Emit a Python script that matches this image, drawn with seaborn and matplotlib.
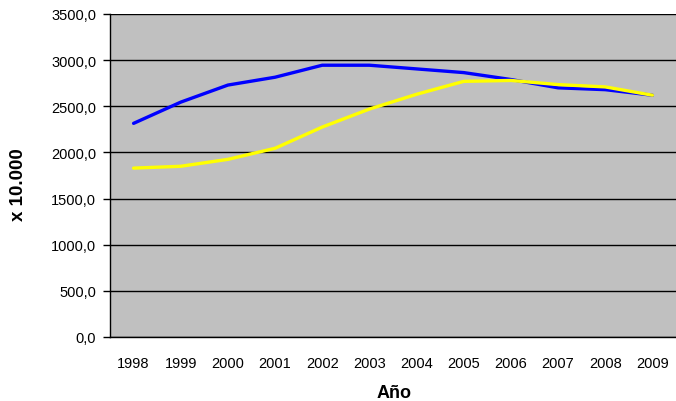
import matplotlib
matplotlib.use('agg')
import matplotlib.pyplot as plt
import seaborn as sns
import pandas as pd
import numpy as np
from matplotlib.ticker import FixedLocator, FuncFormatter

years = ['1998', '1999', '2000', '2001', '2002', '2003', '2004', '2005', '2006', '2007', '2008', '2009']
serie_azul = [2315, 2545, 2730, 2815, 2945, 2945, 2905, 2865, 2790, 2700, 2680, 2620]
serie_amarilla = [1830, 1850, 1925, 2045, 2275, 2470, 2630, 2770, 2780, 2735, 2710, 2620]

df = pd.DataFrame({
    'pos': list(range(len(years))) * 2,
    'valor': serie_azul + serie_amarilla,
    'serie': ['azul'] * len(years) + ['amarilla'] * len(years),
})

sns.set_style('white')
plt.rcParams['font.family'] = ['Liberation Sans', 'DejaVu Sans']
plt.rcParams['text.color'] = 'black'
plt.rcParams['xtick.color'] = 'black'
plt.rcParams['ytick.color'] = 'black'
plt.rcParams['axes.labelcolor'] = 'black'

fig = plt.figure(figsize=(6.76, 4.02), dpi=100)
ax = fig.add_axes([110 / 676, 64 / 402, 566 / 676, 323 / 402])
ax.set_facecolor('#C0C0C0')

sns.lineplot(data=df, x='pos', y='valor', hue='serie',
             palette={'azul': '#0000FF', 'amarilla': '#FFFF00'},
             linewidth=2.4, legend=False, ax=ax, zorder=3)

ax.set_xlim(-0.5, len(years) - 0.5)
ax.set_ylim(0, 3500)
ax.set_yticks(np.arange(0, 3501, 500))
ax.yaxis.set_major_formatter(FuncFormatter(lambda v, p: f'{v:.1f}'.replace('.', ',')))
ax.grid(axis='y', color='black', linewidth=1.0, zorder=1)
ax.set_axisbelow(True)

ax.set_xticks(range(len(years)))
ax.set_xticklabels(years)
ax.xaxis.set_minor_locator(FixedLocator(np.arange(-0.5, len(years), 1.0)))
ax.tick_params(axis='x', which='major', length=0, pad=14, labelsize=10.5)
ax.tick_params(axis='x', which='minor', length=3.8, width=1, direction='out')
ax.tick_params(axis='y', which='major', length=5, width=1, direction='out',
               labelsize=10.5, pad=5)
ax.yaxis.set_ticks_position('left')

for s in ['top', 'right']:
    ax.spines[s].set_visible(False)
for s in ['left', 'bottom']:
    ax.spines[s].set_color('black')
    ax.spines[s].set_linewidth(1.0)

ax.set_xlabel('Año', fontsize=13, fontweight='bold')
ax.set_ylabel('x 10.000', fontsize=13.5, fontweight='bold')
ax.xaxis.set_label_coords(0.502, -0.145)
ax.yaxis.set_label_coords(-0.147, 0.474)

fig.savefig('out.png', dpi=100)
